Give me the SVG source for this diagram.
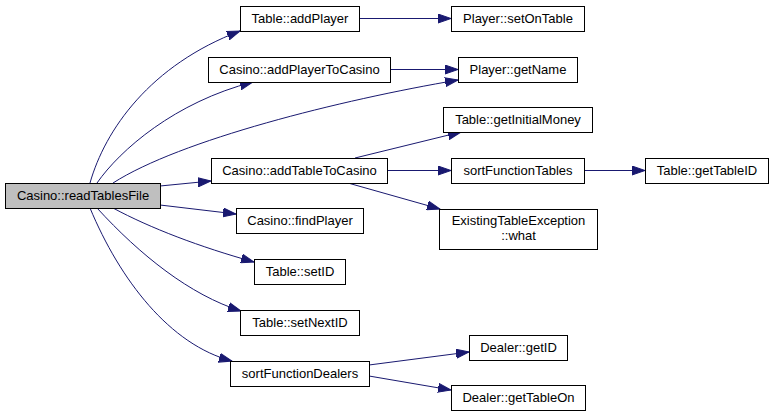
<svg xmlns="http://www.w3.org/2000/svg" width="773" height="417" viewBox="0 0 773 417">
<style>
.n rect{fill:#fff;stroke:#000;stroke-width:1}
.n.root rect{fill:#bfbfbf}
.n text{font-family:"Liberation Sans",Arial,sans-serif;font-size:13px;fill:#000;text-anchor:middle}
.e path{fill:none;stroke:#191970;stroke-width:1;marker-end:url(#ah)}
</style>
<defs>
<marker id="ah" markerUnits="userSpaceOnUse" markerWidth="14" markerHeight="10" viewBox="0 0 14 10" refX="13" refY="5" orient="auto">
<path d="M0,0.5 L13,5 L0,9.5 z" fill="#191970" stroke="#191970" stroke-width="1"/>
</marker>
</defs>
<rect width="773" height="417" fill="#fff"/>
<g id="connectors" class="e">
<path d="M90,183 C105,130 150,65 240,31"/>
<path d="M97,183 C120,150 175,102 253,82"/>
<path d="M113,183 C180,140 340,100 458,80"/>
<path d="M160,186 L211,181"/>
<path d="M160,205 L236,214"/>
<path d="M113,208 C150,228 200,247 254,262"/>
<path d="M97,208 C140,255 190,295 241,311"/>
<path d="M90,208 C120,280 170,345 232,361"/>
<path d="M359,18.5 L451,18.5"/>
<path d="M390,69.5 L458,69.5"/>
<path d="M355,158 L461,132"/>
<path d="M387,170.5 L451,170.5"/>
<path d="M584,170.5 L645,170.5"/>
<path d="M348,183 L440,209"/>
<path d="M369,365 L469,352"/>
<path d="M369,376 L451,390"/>
</g>
<g id="n0" class="n root"><rect x="5.5" y="183.5" width="155" height="25"/><text x="83" y="200">Casino::readTablesFile</text></g>
<g id="n1" class="n"><rect x="240.5" y="6.5" width="119" height="25"/><text x="300" y="23">Table::addPlayer</text></g>
<g id="n2" class="n"><rect x="451.5" y="6.5" width="133" height="25"/><text x="518" y="23">Player::setOnTable</text></g>
<g id="n3" class="n"><rect x="208.5" y="57.5" width="182" height="25"/><text x="299.5" y="74">Casino::addPlayerToCasino</text></g>
<g id="n4" class="n"><rect x="458.5" y="57.5" width="119" height="25"/><text x="518" y="74">Player::getName</text></g>
<g id="n5" class="n"><rect x="211.5" y="158.5" width="176" height="25"/><text x="299.5" y="175">Casino::addTableToCasino</text></g>
<g id="n6" class="n"><rect x="443.5" y="107.5" width="149" height="25"/><text x="518" y="124">Table::getInitialMoney</text></g>
<g id="n7" class="n"><rect x="451.5" y="158.5" width="133" height="25"/><text x="518" y="175">sortFunctionTables</text></g>
<g id="n8" class="n"><rect x="645.5" y="158.5" width="123" height="25"/><text x="707" y="175">Table::getTableID</text></g>
<g id="n9" class="n"><rect x="439.5" y="209.5" width="158" height="40"/><text x="518.5" y="224.5">ExistingTableException</text><text x="518.5" y="240">::what</text></g>
<g id="n10" class="n"><rect x="236.5" y="208.5" width="127" height="25"/><text x="300" y="225">Casino::findPlayer</text></g>
<g id="n11" class="n"><rect x="254.5" y="259.5" width="91" height="25"/><text x="300" y="276">Table::setID</text></g>
<g id="n12" class="n"><rect x="240.5" y="310.5" width="119" height="25"/><text x="300" y="327">Table::setNextID</text></g>
<g id="n13" class="n"><rect x="230.5" y="361.5" width="139" height="25"/><text x="300" y="378">sortFunctionDealers</text></g>
<g id="n14" class="n"><rect x="469.5" y="335.5" width="98" height="25"/><text x="518.5" y="352">Dealer::getID</text></g>
<g id="n15" class="n"><rect x="451.5" y="385.5" width="134" height="25"/><text x="518.5" y="402">Dealer::getTableOn</text></g>
</svg>
